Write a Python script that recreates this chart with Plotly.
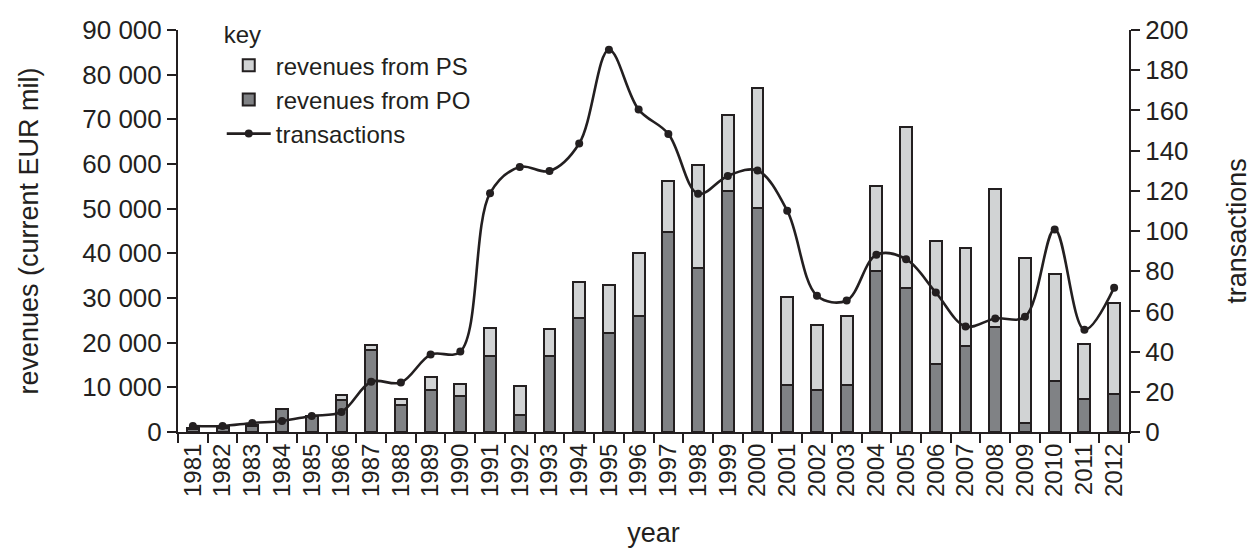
import plotly.graph_objects as go

years = [str(y) for y in range(1981, 2013)]
# revenues from PO (current EUR mil)
rev_po = [700, 1000, 1300, 5100, 3500, 7100, 18300, 6100, 9350, 8050,
          16960, 3840, 17100, 25580, 22170, 26010, 44850, 36810, 54060, 50220,
          10580, 9350, 10430, 35940, 32170, 15290, 19280, 23620, 2030, 11450,
          7320, 8550]
rev_total = [900, 1200, 1600, 5150, 3600, 8200, 19400, 7300, 12300, 10700,
             23260, 10360, 23100, 33480, 32970, 40140, 56090, 59710, 70870, 76960,
             30290, 23980, 26010, 55140, 68260, 42830, 41160, 54350, 38990, 35360,
             19640, 28770]
rev_ps = [t - p for t, p in zip(rev_total, rev_po)]
transactions = [3, 3, 4.5, 5.5, 8, 10, 25, 24.6, 38.5, 40,
                118.8, 131.9, 129.8, 143.5, 190.2, 160.4, 148.3, 118.5, 127.4, 130.1,
                110.1, 67.8, 65.4, 88.2, 86, 69.4, 52.5, 56.5, 57.3, 100.8,
                50.9, 71.8]

INK = "#231f20"
FONT = "Liberation Sans, Arial, Helvetica, sans-serif"

fig = go.Figure()
fig.add_trace(go.Bar(
    x=years, y=rev_po, name="revenues from PO", width=0.4,
    marker=dict(color="#808285", line=dict(color=INK, width=2)),
    legendrank=2,
))
fig.add_trace(go.Bar(
    x=years, y=rev_ps, name="revenues from PS", width=0.4,
    marker=dict(color="#d1d3d4", line=dict(color=INK, width=2)),
    legendrank=1,
))
fig.add_trace(go.Scatter(
    x=years, y=transactions, name="transactions", yaxis="y2",
    mode="lines+markers", line=dict(color=INK, width=2.6, shape="spline", smoothing=1),
    marker=dict(color=INK, size=8), legendrank=3,
))

axis_common = dict(ticks="outside", ticklen=9, tickwidth=2, tickcolor=INK,
                   showline=True, linecolor=INK, linewidth=2, showgrid=False,
                   automargin=False)

fig.update_layout(
    width=1259, height=549,
    margin=dict(l=178, r=130, t=18, b=117),
    paper_bgcolor="white", plot_bgcolor="white",
    barmode="stack",
    separators=". ",
    font=dict(family=FONT, size=24, color=INK),
    showlegend=True,
    legend=dict(
        x=0.046, y=1.045, xanchor="left", yanchor="top",
        title=dict(text="key", font=dict(size=24, color=INK)),
        font=dict(size=24, color=INK),
        bgcolor="rgba(0,0,0,0)", traceorder="normal",
        itemwidth=44, tracegroupgap=0,
    ),
    xaxis=dict(
        type="category", tickson="boundaries", tickangle=-90,
        tickfont=dict(size=24), range=[-0.5, 31.5],
        title=dict(text="year", font=dict(size=27), standoff=27),
        **axis_common,
    ),
    yaxis=dict(
        range=[0, 90000], dtick=10000, tickformat=",d", zeroline=False,
        tickfont=dict(size=26),
        title=dict(text="revenues (current EUR mil)", font=dict(size=27), standoff=36),
        **axis_common,
    ),
    yaxis2=dict(
        range=[0, 200], dtick=20, overlaying="y", side="right", zeroline=False,
        tickfont=dict(size=26),
        title=dict(text="transactions", font=dict(size=27), standoff=40),
        **axis_common,
    ),
)

fig.write_html("out.html", config={"displayModeBar": False},
               post_script="document.body.style.margin='0px';")
